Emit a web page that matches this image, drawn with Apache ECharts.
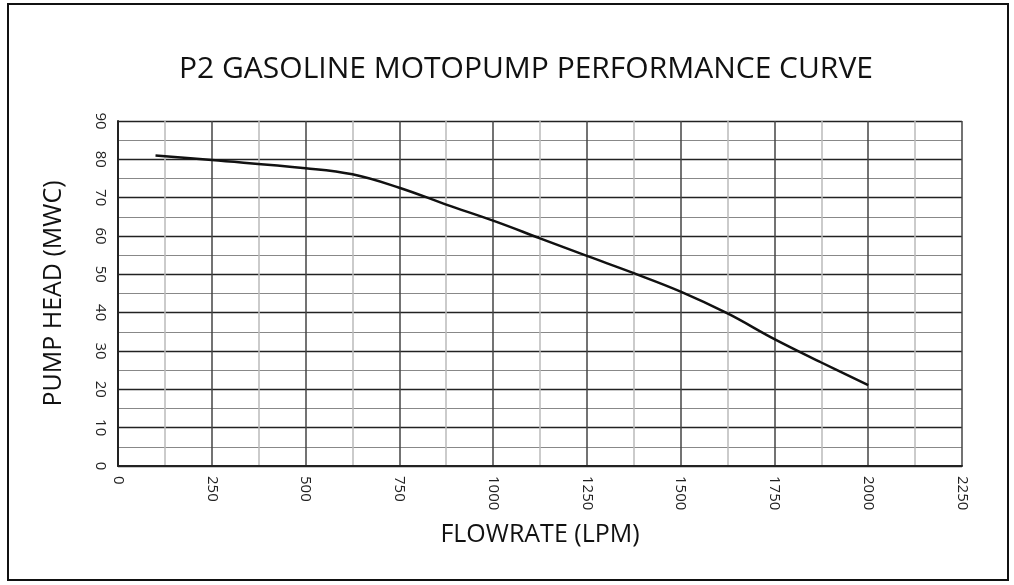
<!DOCTYPE html>
<html>
<head>
<meta charset="utf-8">
<script src="https://cdn.jsdelivr.net/npm/echarts@6/dist/echarts.min.js"></script>
<style>
  html, body { margin: 0; padding: 0; background: #fff; }
  #chart { width: 1014px; height: 585px; }
</style>
</head>
<body>
<div id="chart"></div>
<script>
// flowrate (LPM) and pump head (MWC)
const flowrate = [100, 250, 500, 625, 750, 875, 1000, 1125, 1250, 1375, 1500, 1625, 1750, 1875, 2000];
const pumpHead = [81, 79.8, 77.7, 76.1, 72.6, 68.2, 64, 59.4, 54.8, 50.3, 45.5, 39.8, 33.1, 27, 21.1];
const xTicks = [0, 250, 500, 750, 1000, 1250, 1500, 1750, 2000, 2250];
const yTicks = [0, 10, 20, 30, 40, 50, 60, 70, 80, 90];

const chart = echarts.init(document.getElementById('chart'));
const font = 'Open Sans';

const option = {
  backgroundColor: '#fff',
  animation: false,
  title: {
    text: 'P2 GASOLINE MOTOPUMP PERFORMANCE CURVE',
    left: 521,
    top: 49,
    textAlign: 'center',
    textStyle: { fontFamily: font, fontSize: 30, fontWeight: 'normal', color: '#111' }
  },
  graphic: [{
    type: 'rect',
    shape: { x: 8, y: 4, width: 1000, height: 576 },
    style: { fill: null, stroke: '#111', lineWidth: 2 }
  }],
  grid: { left: 118, top: 121, width: 844, height: 345 },
  xAxis: {
    type: 'value',
    min: xTicks[0],
    max: xTicks[xTicks.length - 1],
    interval: 250,
    name: 'FLOWRATE (LPM)',
    nameLocation: 'middle',
    nameGap: 56,
    nameTextStyle: { fontFamily: font, fontSize: 25, color: '#111' },
    axisLine: { show: true, lineStyle: { color: '#222', width: 2 } },
    axisTick: { show: false },
    axisLabel: { rotate: -90, margin: 10, fontFamily: font, fontSize: 15, color: '#222', formatter: v => String(v) },
    splitLine: { show: true, lineStyle: { color: '#444', width: 1.5 } },
    minorTick: { show: false, splitNumber: 2 },
    minorSplitLine: { show: true, lineStyle: { color: '#bbb', width: 1.5 } }
  },
  yAxis: {
    type: 'value',
    min: yTicks[0],
    max: yTicks[yTicks.length - 1],
    interval: 10,
    name: 'PUMP HEAD (MWC)',
    nameLocation: 'middle',
    nameRotate: 90,
    nameGap: 52,
    nameTextStyle: { fontFamily: font, fontSize: 25, color: '#111' },
    axisLine: { show: true, lineStyle: { color: '#222', width: 2 } },
    axisTick: { show: false },
    axisLabel: { rotate: -90, margin: 10, fontFamily: font, fontSize: 15, color: '#222', formatter: v => String(v) },
    splitLine: { show: true, lineStyle: { color: '#222', width: 1.3 } },
    minorTick: { show: false, splitNumber: 2 },
    minorSplitLine: { show: true, lineStyle: { color: '#888', width: 1 } }
  },
  series: [{
    type: 'line',
    data: flowrate.map((f, i) => [f, pumpHead[i]]),
    smooth: 0.4,
    showSymbol: false,
    lineStyle: { color: '#111', width: 2.5 }
  }]
};

chart.setOption(option);
</script>
</body>
</html>
